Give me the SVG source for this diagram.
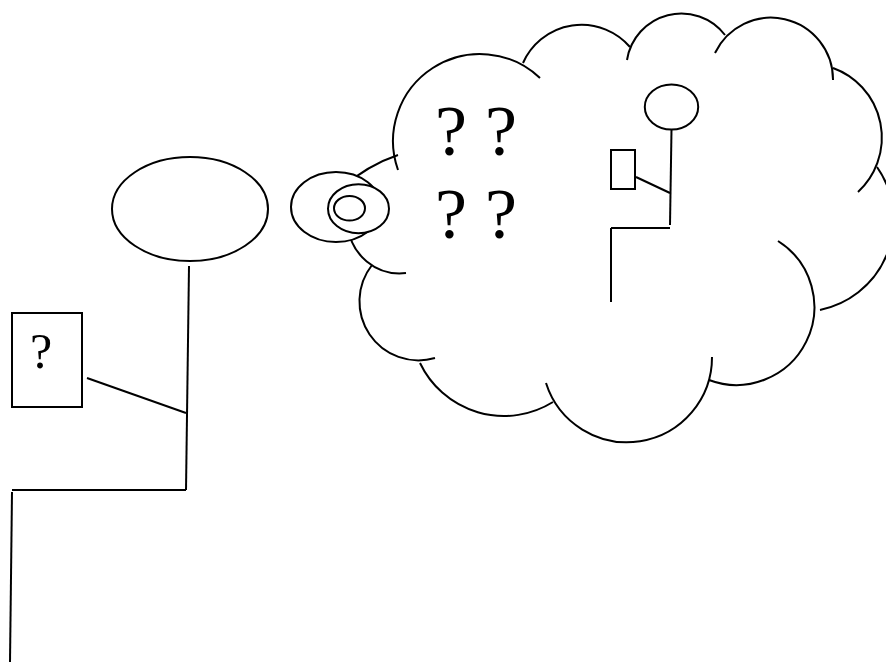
<svg xmlns="http://www.w3.org/2000/svg" width="886" height="666" viewBox="0 0 886 666">
<style>
.s{fill:none;stroke:#000;stroke-width:2;stroke-linecap:butt}
.w{fill:#fff;stroke:#000;stroke-width:2}
.t{font-family:"Liberation Serif","Times New Roman",serif;fill:#000}
</style>
<rect width="886" height="666" fill="#fff"/>
<g id="cloud" class="s">
<path d="M340,189 Q368,165 398,155"/>
<path d="M398,170 A87,87 0 0 1 540,78"/>
<path d="M523,63 A64,64 0 0 1 630,47"/>
<path d="M627,60 A55,55 0 0 1 725,35"/>
<path d="M715,53 A62,62 0 0 1 833,80"/>
<path d="M833,68 A74,74 0 0 1 858,192"/>
<path d="M877,167 A92,92 0 0 1 820,310"/>
<path d="M778,241 A78,78 0 0 1 709,380"/>
<path d="M712,357 A85,85 0 0 1 546,383"/>
<path d="M553,402 A93,93 0 0 1 420,363"/>
<path d="M435,358 A59,59 0 0 1 372,265"/>
<path d="M406,273 A52,52 0 0 1 348,225"/>
</g>
<g id="thought-bubble">
<ellipse class="w" cx="336" cy="207" rx="45" ry="35"/>
<ellipse class="w" cx="358.5" cy="208.7" rx="30.5" ry="24.5"/>
<ellipse class="w" cx="349.5" cy="208.3" rx="15.5" ry="12.3"/>
</g>
<g id="questions">
<text class="t" x="435" y="155" font-size="72">? ?</text>
<text class="t" x="435" y="238" font-size="72">? ?</text>
</g>
<g id="person-head">
<ellipse class="w" cx="190" cy="209" rx="78" ry="52"/>
</g>
<g id="person-sign">
<rect class="w" x="12" y="313" width="70" height="94"/>
<text class="t" x="30" y="368" font-size="50">?</text>
</g>
<g id="thought-head">
<ellipse class="w" cx="671.5" cy="107" rx="26.7" ry="22.5"/>
</g>
<g id="thought-sign">
<rect class="w" x="611" y="150" width="24" height="39"/>
</g>
<g id="connectors" class="s">
<path d="M189,266 L186,490"/>
<path d="M87,378 L186,413"/>
<path d="M12,490 L186,490"/>
<path d="M12,492 L10,662"/>
<path d="M671.5,129.5 L670,225"/>
<path d="M636,177 L670,193"/>
<path d="M611,228 L670,228"/>
<path d="M611,228 L611,302"/>
</g>
</svg>
